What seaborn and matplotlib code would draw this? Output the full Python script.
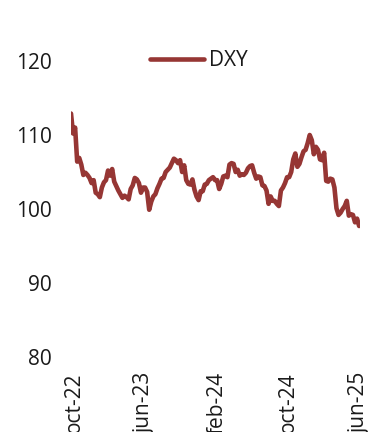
import matplotlib
matplotlib.use("Agg")
import matplotlib.pyplot as plt
import seaborn as sns
import pandas as pd

# Weekly (Friday) closes of the US dollar index
start_date = "2022-10-21"
end_date = "2025-06-27"
dxy_2022 = [112.9, 110.2, 111.0, 106.4, 106.9, 106.0, 104.6, 104.9, 104.6, 104.2, 103.5]
dxy_2023 = [103.9, 102.2, 102.0, 101.6, 102.9, 103.6, 103.9, 105.2, 104.5, 105.4,
            103.7, 103.1, 102.5, 102.0, 101.5, 101.8, 101.6, 101.3, 102.7, 103.2,
            104.2, 104.0, 103.5, 102.2, 102.9, 102.9, 102.3, 99.9, 101.0, 101.7,
            102.0, 102.8, 103.4, 104.1, 104.2, 105.0, 105.3, 105.6, 106.2, 106.8,
            106.6, 106.2, 106.6, 105.0, 105.9, 103.9, 103.4, 103.3, 104.0, 102.6,
            101.7, 101.2]
dxy_2024 = [102.4, 102.4, 103.3, 103.4, 103.9, 104.1, 104.3, 103.9, 103.9, 102.7,
            103.4, 104.4, 104.5, 104.3, 106.0, 106.2, 106.1, 105.0, 105.3, 104.5,
            104.7, 104.6, 104.9, 105.5, 105.8, 105.9, 104.9, 104.1, 104.4, 104.3,
            103.2, 103.1, 102.5, 100.7, 101.7, 101.1, 101.1, 100.7, 100.4, 102.5,
            102.9, 103.5, 104.3, 104.3, 105.0, 106.7, 107.5, 105.7, 106.1, 107.0,
            107.8, 108.0]
dxy_2025 = [108.9, 110.0, 109.3, 107.4, 108.4, 108.0, 106.7, 106.6, 107.6, 103.8,
            103.7, 104.1, 104.0, 102.9, 100.1, 99.2, 99.5, 100.0, 100.4, 101.1,
            99.1, 99.3, 99.2, 98.2, 98.7, 97.7]

tick_dates = ["2022-10-31", "2023-06-30", "2024-02-29", "2024-10-31", "2025-06-30"]
tick_labels = ["oct-22", "jun-23", "feb-24", "oct-24", "jun-25"]
y_ticks = [80, 90, 100, 110, 120]

values = dxy_2022 + dxy_2023 + dxy_2024 + dxy_2025
dates = pd.date_range(start_date, end_date, freq="W-FRI")
df = pd.DataFrame({"date": dates, "DXY": values})

sns.set_style("white")
plt.rcParams["font.family"] = ["Open Sans", "DejaVu Sans"]
text_color = "#1a1a1a"
line_color = "#963634"

fig = plt.figure(figsize=(3.73, 4.32), dpi=100)
ax = fig.add_axes([71 / 373, 1 - 357 / 432, (360 - 71) / 373, (357 - 61) / 432])

sns.lineplot(data=df, x="date", y="DXY", ax=ax, color=line_color,
             linewidth=3.3, label="DXY")

ax.set_xlim(dates[0], dates[-1])
ax.set_ylim(80, 120)
ax.set_yticks(y_ticks)
ax.set_yticklabels([str(v) for v in y_ticks])
ax.set_xticks(pd.to_datetime(tick_dates))
ax.set_xticklabels(tick_labels, rotation=90)
ax.tick_params(axis="y", length=0, pad=14, labelsize=15, labelcolor=text_color)
ax.tick_params(axis="x", length=0, pad=11, labelsize=15, labelcolor=text_color)
ax.set_xlabel("")
ax.set_ylabel("")
sns.despine(ax=ax, left=True, bottom=True)
ax.grid(False)

ax.legend(loc="center", bbox_to_anchor=(199 / 373, 1 - 61 / 432),
          bbox_transform=fig.transFigure, frameon=False, fontsize=15,
          handlelength=2.6, handletextpad=0.25, labelcolor=text_color)

fig.savefig("out.png", dpi=100)
